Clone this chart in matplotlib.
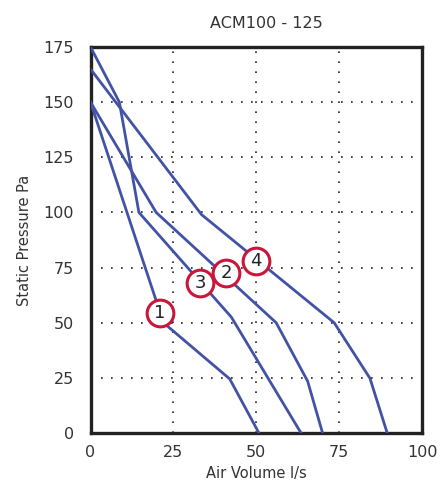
import matplotlib
matplotlib.use("Agg")
import matplotlib.pyplot as plt

# fan curves, ACM100 - 125 (air volume l/s vs static pressure Pa)
curve1_x = [0, 22, 42, 50.8]
curve1_y = [150, 50, 24.5, 0]
curve2_x = [0, 19.8, 56, 65.5, 70]
curve2_y = [150, 100, 50, 23.5, 0]
curve3_x = [0, 8.7, 14.6, 42.5, 63.5]
curve3_y = [175, 150, 100, 52.5, 0]
curve4_x = [0, 33.5, 73.5, 84.3, 89.5]
curve4_y = [165, 99, 50, 24.8, 0]

# numbered markers on the curves
label_names = ["1", "2", "3", "4"]
label_x = [21, 41, 33.1, 49.9]
label_y = [54.3, 72.4, 68.1, 78.1]

x_ticks = [0, 25, 50, 75, 100]
y_ticks = [0, 25, 50, 75, 100, 125, 150, 175]

line_color = "#4252a4"
mark_color = "#c8173a"

fig = plt.figure(figsize=(4.4, 4.87), dpi=100)
ax = fig.add_axes([0.2057, 0.1109, 0.7534, 0.7926])

for xs, ys in [(curve1_x, curve1_y), (curve2_x, curve2_y),
               (curve3_x, curve3_y), (curve4_x, curve4_y)]:
    ax.plot(xs, ys, color=line_color, lw=2, solid_joinstyle="miter", zorder=3)

ax.scatter(label_x, label_y, s=370, facecolor="white", edgecolor=mark_color,
           linewidth=2.2, zorder=4)
for name, lx, ly in zip(label_names, label_x, label_y):
    ax.text(lx, ly, name, ha="center", va="center", fontsize=13,
            color="#222222", zorder=5)

ax.set_xlim(0, 100)
ax.set_ylim(0, 175)
ax.set_xticks(x_ticks)
ax.set_yticks(y_ticks)
ax.tick_params(length=0, labelsize=11.5, colors="#333333")
ax.tick_params(axis="x", pad=9)
ax.tick_params(axis="y", pad=12)

for v in x_ticks[1:-1]:
    ax.axvline(v, color="#222222", lw=1.2, ls=(0, (1, 5)), zorder=1)
for v in y_ticks[1:-1]:
    ax.axhline(v, color="#222222", lw=1.2, ls=(0, (1, 5)), zorder=1)

for s in ax.spines.values():
    s.set_linewidth(2.4)
    s.set_color("#222222")

ax.set_xlabel("Air Volume l/s", fontsize=10.5, color="#333333", labelpad=4)
ax.set_ylabel("Static Pressure Pa", fontsize=10.5, color="#333333", labelpad=8)
ax.set_title("ACM100 - 125", fontsize=11.5, color="#333333", pad=14, x=0.53)

fig.savefig("out.png", dpi=100)
